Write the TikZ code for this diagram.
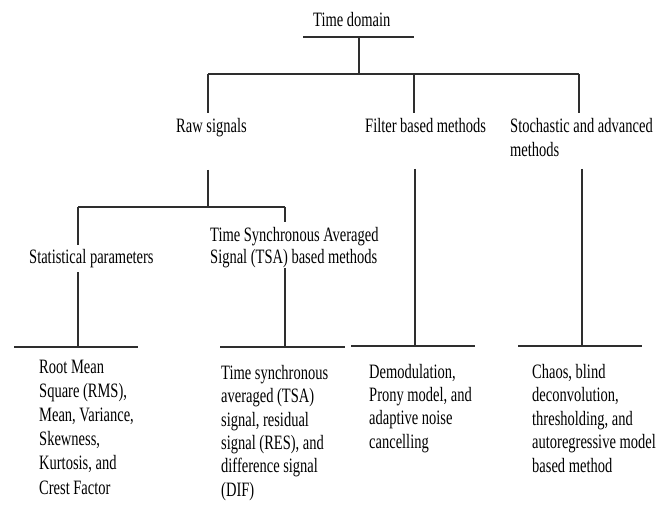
\documentclass[tikz,border=0pt]{standalone}
\usepackage{fontspec}
\setmainfont{Liberation Serif}
\newfontfamily\narrowserif[FakeStretch=0.71]{Liberation Serif}
\begin{document}
\begin{tikzpicture}[x=1bp,y=-1bp,
  lbl/.style={inner sep=0pt,anchor=base west,align=left,font=\narrowserif\fontsize{20.5}{23.5}\selectfont},
  conn/.style={line width=1.1bp,draw=black!82}]
\useasboundingbox[fill=white] (0,0) rectangle (672,506);
% text nodes (anchor = baseline of the last line)
\node[lbl] (td) at (313,26.5) {Time domain};
\node[lbl] (raw) at (176,132.5) {Raw signals};
\node[lbl] (filt) at (365,132.5) {Filter based methods};
\node[lbl,font=\narrowserif\fontsize{20.5}{24}\selectfont] (stoch) at (510,156.5) {Stochastic and advanced\\methods};
\node[lbl] (stat) at (29,263.5) {Statistical parameters};
\node[lbl,font=\narrowserif\fontsize{20.5}{22.5}\selectfont] (tsa) at (210,263.5) {Time Synchronous Averaged\\Signal (TSA) based methods};
\node[lbl,font=\narrowserif\fontsize{20.5}{24.2}\selectfont] (rms) at (39,494) {Root Mean\\Square (RMS),\\Mean, Variance,\\Skewness,\\Kurtosis, and\\Crest Factor};
\node[lbl,font=\narrowserif\fontsize{20.5}{23.4}\selectfont] (tsab) at (221,496) {Time synchronous\\averaged (TSA)\\signal, residual\\signal (RES), and\\difference signal\\(DIF)};
\node[lbl,font=\narrowserif\fontsize{20.5}{23.3}\selectfont] (demod) at (369,448) {Demodulation,\\Prony model, and\\adaptive noise\\cancelling};
\node[lbl,font=\narrowserif\fontsize{20.5}{23.5}\selectfont] (chaos) at (532,472) {Chaos, blind\\deconvolution,\\thresholding, and\\autoregressive model\\based method};
% junction coordinates
\coordinate (tdL) at (303,37);
\coordinate (tdR) at (414,37);
\coordinate (tdM) at (359,37);
\coordinate (barM) at (359,74);
\coordinate (barL) at (208,74);
\coordinate (barF) at (414,74);
\coordinate (barR) at (579,74);
\coordinate (rawT) at (208,113);
\coordinate (filtT) at (414,113);
\coordinate (stochT) at (579,113);
\coordinate (rawB) at (208,170);
\coordinate (rbM) at (208,207);
\coordinate (rbL) at (78,207);
\coordinate (rbR) at (285,207);
\coordinate (statT) at (78,245);
\coordinate (tsaT) at (285,222);
\coordinate (statB) at (78,272);
\coordinate (tsaB) at (285,268);
\coordinate (filtB) at (415,169);
\coordinate (stochB) at (582,169);
\coordinate (rmsM) at (78,347);
\coordinate (rmsL) at (14,347);
\coordinate (rmsR) at (138,347);
\coordinate (tsabM) at (285,347);
\coordinate (tsabL) at (220,347);
\coordinate (tsabR) at (345,347);
\coordinate (demM) at (415,346);
\coordinate (demL) at (351,346);
\coordinate (demR) at (475,346);
\coordinate (chM) at (582,346);
\coordinate (chL) at (518,346);
\coordinate (chR) at (642,346);
% connectors
\draw[conn] (tdL) -- (tdR);
\draw[conn] (tdM) -- (barM);
\draw[conn] (barL) -- (barR);
\draw[conn] (barL) -- (rawT);
\draw[conn] (barF) -- (filtT);
\draw[conn] (barR) -- (stochT);
\draw[conn] (rawB) -- (rbM);
\draw[conn] (rbL) -- (rbR);
\draw[conn] (rbL) -- (statT);
\draw[conn] (rbR) -- (tsaT);
\draw[conn] (statB) -- (rmsM);
\draw[conn] (rmsL) -- (rmsR);
\draw[conn] (tsaB) -- (tsabM);
\draw[conn] (tsabL) -- (tsabR);
\draw[conn] (filtB) -- (demM);
\draw[conn] (demL) -- (demR);
\draw[conn] (stochB) -- (chM);
\draw[conn] (chL) -- (chR);
\end{tikzpicture}
\end{document}
